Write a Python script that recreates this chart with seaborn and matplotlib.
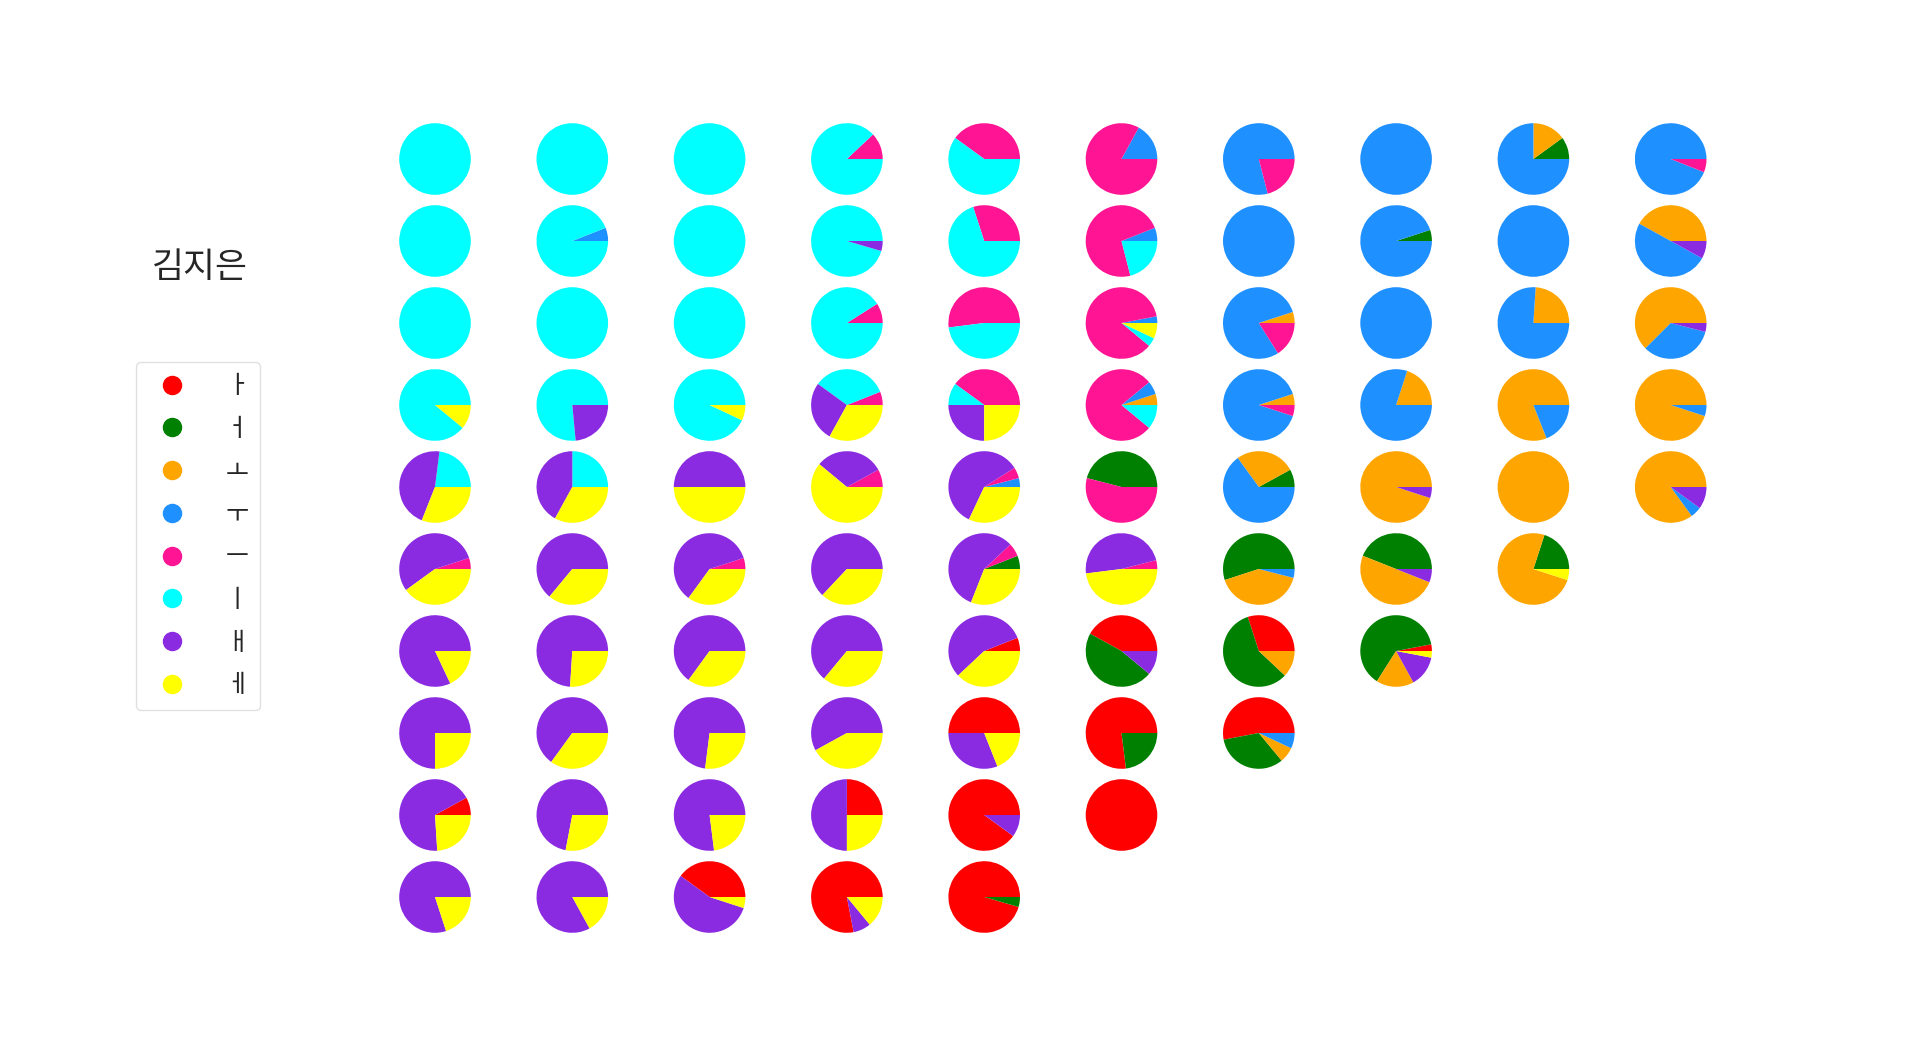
import matplotlib
matplotlib.use("Agg")
import matplotlib.pyplot as plt
import seaborn as sns
from matplotlib.lines import Line2D

# ---------------- data ----------------
speaker = "김지은"
vowels = ["ㅏ", "ㅓ", "ㅗ", "ㅜ", "ㅡ", "ㅣ", "ㅐ", "ㅔ"]
vowel_colors = ["#FF0000", "#008000", "#FFA500", "#1E90FF",
                "#FF1493", "#00FFFF", "#8A2BE2", "#FFFF00"]

# each pie: share of [ㅏ, ㅓ, ㅗ, ㅜ, ㅡ, ㅣ, ㅐ, ㅔ] (percent)
row_01 = [[0, 0, 0, 0, 0, 100, 0, 0], [0, 0, 0, 0, 0, 100, 0, 0], [0, 0, 0, 0, 0, 100, 0, 0],
          [0, 0, 0, 0, 12, 88, 0, 0], [0, 0, 0, 0, 40, 60, 0, 0], [0, 0, 0, 17, 83, 0, 0, 0],
          [0, 0, 0, 79, 21, 0, 0, 0], [0, 0, 0, 100, 0, 0, 0, 0], [0, 10, 15, 75, 0, 0, 0, 0],
          [0, 0, 0, 94, 6, 0, 0, 0]]
row_02 = [[0, 0, 0, 0, 0, 100, 0, 0], [0, 0, 0, 6, 0, 94, 0, 0], [0, 0, 0, 0, 0, 100, 0, 0],
          [0, 0, 0, 0, 0, 95.5, 4.5, 0], [0, 0, 0, 0, 30, 70, 0, 0], [0, 0, 0, 6, 73, 21, 0, 0],
          [0, 0, 0, 100, 0, 0, 0, 0], [0, 5, 0, 95, 0, 0, 0, 0], [0, 0, 0, 100, 0, 0, 0, 0],
          [0, 0, 42, 50, 0, 0, 8, 0]]
row_03 = [[0, 0, 0, 0, 0, 100, 0, 0], [0, 0, 0, 0, 0, 100, 0, 0], [0, 0, 0, 0, 0, 100, 0, 0],
          [0, 0, 0, 0, 9, 91, 0, 0], [0, 0, 0, 0, 52, 48, 0, 0], [0, 0, 0, 3, 86, 4, 0, 7],
          [0, 0, 5, 79, 16, 0, 0, 0], [0, 0, 0, 100, 0, 0, 0, 0], [0, 0, 24, 76, 0, 0, 0, 0],
          [0, 0, 62.5, 33.5, 0, 0, 4, 0]]
row_04 = [[0, 0, 0, 0, 0, 89, 0, 11], [0, 0, 0, 0, 0, 76.5, 23.5, 0], [0, 0, 0, 0, 0, 93, 0, 7],
          [0, 0, 0, 0, 6, 34, 27, 33], [0, 0, 0, 0, 40, 10, 25, 25], [0, 0, 5, 6, 78, 11, 0, 0],
          [0, 0, 5, 90, 5, 0, 0, 0], [0, 0, 20, 80, 0, 0, 0, 0], [0, 0, 81, 19, 0, 0, 0, 0],
          [0, 0, 95, 5, 0, 0, 0, 0]]
row_05 = [[0, 0, 0, 0, 0, 23, 46, 31], [0, 0, 0, 0, 0, 25, 42, 33], [0, 0, 0, 0, 0, 0, 50, 50],
          [0, 0, 0, 0, 8, 0, 31, 61], [0, 0, 0, 4, 5, 0, 59, 32], [0, 46, 0, 0, 54, 0, 0, 0],
          [0, 8, 27, 65, 0, 0, 0, 0], [0, 0, 95, 0, 0, 0, 5, 0], [0, 0, 100, 0, 0, 0, 0, 0],
          [0, 0, 85, 5, 0, 0, 10, 0]]
row_06 = [[0, 0, 0, 0, 5, 0, 55, 40], [0, 0, 0, 0, 0, 0, 64, 36], [0, 0, 0, 0, 5, 0, 60, 35],
          [0, 0, 0, 0, 0, 0, 63, 37], [0, 6, 0, 0, 6, 0, 57, 31], [0, 0, 0, 0, 4, 0, 48, 48],
          [0, 55, 41, 4, 0, 0, 0, 0], [0, 44, 50, 0, 0, 0, 6, 0], [0, 20, 75, 0, 0, 0, 0, 5]]
row_07 = [[0, 0, 0, 0, 0, 0, 82, 18], [0, 0, 0, 0, 0, 0, 74, 26], [0, 0, 0, 0, 0, 0, 65, 35],
          [0, 0, 0, 0, 0, 0, 64, 36], [6, 0, 0, 0, 0, 0, 56, 38], [42, 47, 0, 0, 0, 0, 11, 0],
          [30, 58, 12, 0, 0, 0, 0, 0], [3, 63, 17, 0, 0, 0, 14, 3]]
row_08 = [[0, 0, 0, 0, 0, 0, 75, 25], [0, 0, 0, 0, 0, 0, 65, 35], [0, 0, 0, 0, 0, 0, 73, 27],
          [0, 0, 0, 0, 0, 0, 58, 42], [50, 0, 0, 0, 0, 0, 31, 19], [77, 23, 0, 0, 0, 0, 0, 0],
          [53, 33, 7, 7, 0, 0, 0, 0]]
row_09 = [[8, 0, 0, 0, 0, 0, 68, 24], [0, 0, 0, 0, 0, 0, 72, 28], [0, 0, 0, 0, 0, 0, 77, 23],
          [25, 0, 0, 0, 0, 0, 50, 25], [90, 0, 0, 0, 0, 0, 10, 0], [100, 0, 0, 0, 0, 0, 0, 0]]
row_10 = [[0, 0, 0, 0, 0, 0, 80, 20], [0, 0, 0, 0, 0, 0, 83, 17], [40, 0, 0, 0, 0, 0, 55, 5],
          [78, 0, 0, 0, 0, 0, 8, 14], [95.5, 4.5, 0, 0, 0, 0, 0, 0]]

pie_rows = [row_01, row_02, row_03, row_04, row_05, row_06, row_07, row_08, row_09, row_10]

# ---------------- style ----------------
sns.set_theme(style="white")
palette = sns.color_palette(vowel_colors)
plt.rcParams['font.family'] = ['Noto Sans CJK KR', 'DejaVu Sans']

W, H = 1920, 1046
fig = plt.figure(figsize=(W / 100, H / 100), dpi=100)
fig.patch.set_facecolor("white")

x0, step_x = 435, 137.3
y0, step_y = 159, 82
r_px = 35.8
box = 80
lim = box / 2 / r_px

for r, row in enumerate(pie_rows):
    for c, vals in enumerate(row):
        cx = x0 + c * step_x
        cy = y0 + r * step_y
        ax = fig.add_axes([(cx - box / 2) / W, 1 - (cy + box / 2) / H, box / W, box / H])
        kept = [(v, palette[i]) for i, v in enumerate(vals) if v > 0]
        ax.pie([k[0] for k in kept], colors=[k[1] for k in kept],
               startangle=0, counterclock=True,
               wedgeprops=dict(linewidth=0, edgecolor='none'))
        ax.set_xlim(-lim, lim)
        ax.set_ylim(-lim, lim)
        ax.set_aspect('equal')
        ax.axis('off')

fig.text(200 / W, 1 - 267 / H, speaker, ha='center', va='center', fontsize=25)

handles = [Line2D([], [], marker='o', linestyle='none', markersize=13,
                  markerfacecolor=palette[i], markeredgecolor=palette[i])
           for i in range(len(vowels))]
fig.legend(handles, vowels, loc='upper left', bbox_to_anchor=(136 / W, 1 - 362 / H),
           borderaxespad=0, fontsize=18, handletextpad=1.14, labelspacing=0.67,
           borderpad=0.45, frameon=True, edgecolor='0.85', fancybox=True)

fig.savefig("out.png", dpi=100, facecolor="white")
